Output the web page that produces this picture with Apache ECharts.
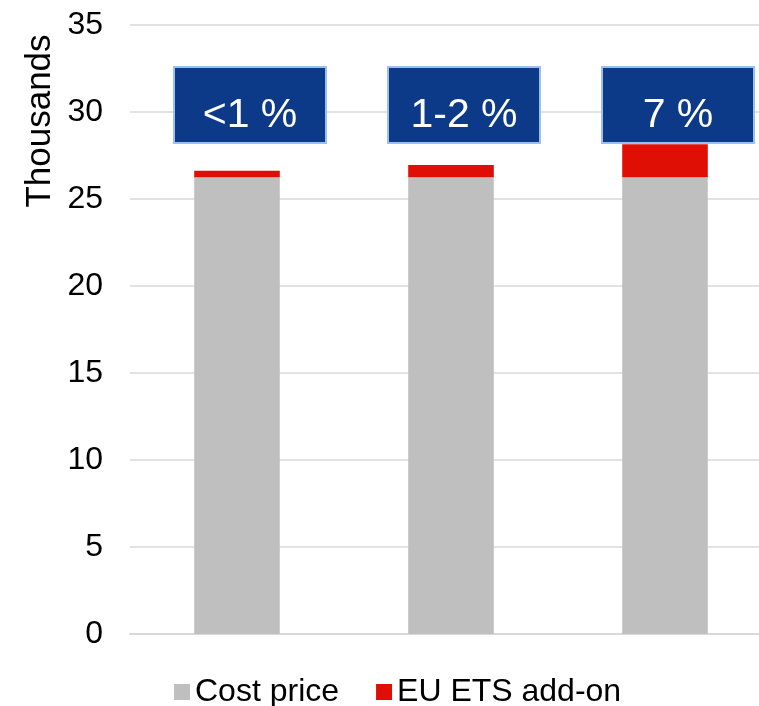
<!DOCTYPE html>
<html><head><meta charset="utf-8">
<script src="https://cdn.jsdelivr.net/npm/echarts@6/dist/echarts.min.js"></script>
<style>html,body{margin:0;padding:0;background:#fff}#c{width:759px;height:706px}</style>
</head><body><div id="c"></div>
<script>
const categories = ['A', 'B', 'C'];
const costPrice = [26.25, 26.25, 26.25];
const etsAddOn = [0.38, 0.70, 1.90];
const shareLabels = ['<1 %', '1-2 %', '7 %'];
const labelLevel = [30.4, 30.4, 30.4];
const yTicks = [0, 5, 10, 15, 20, 25, 30, 35];

const FF = '"Liberation Sans", Arial, sans-serif';
const chart = echarts.init(document.getElementById('c'));
chart.setOption({
  animation: false,
  textStyle: { fontFamily: FF },
  grid: { left: 130, width: 642, top: 25, bottom: 72, containLabel: false, outerBoundsMode: 'none' },
  xAxis: {
    type: 'category', data: categories,
    axisLine: { show: true, lineStyle: { color: '#d9d9d9', width: 2 } },
    axisTick: { show: false }, axisLabel: { show: false }
  },
  yAxis: {
    type: 'value', min: yTicks[0], max: yTicks[yTicks.length - 1], interval: 5,
    axisLine: { show: false }, axisTick: { show: false },
    axisLabel: { color: '#000', fontSize: 32, margin: 27, fontFamily: FF },
    splitLine: { lineStyle: { color: '#d9d9d9', width: 1.5 } }
  },
  legend: {
    left: 169, top: 671, itemWidth: 16, itemHeight: 16, itemGap: 37,
    icon: 'rect', textStyle: { color: '#000', fontSize: 32, fontFamily: FF },
    data: ['Cost price', 'EU ETS add-on']
  },
  graphic: [{
    type: 'text', x: 40, y: 121, rotation: Math.PI / 2,
    style: { text: 'Thousands', font: '35px "Liberation Sans", Arial, sans-serif', fill: '#000', align: 'center', verticalAlign: 'middle' }
  }],
  series: [
    { name: 'Cost price', type: 'bar', stack: 's', data: costPrice, barWidth: '40%',
      itemStyle: { color: '#bfbfbf' } },
    { name: 'EU ETS add-on', type: 'bar', stack: 's', data: etsAddOn, barWidth: '40%',
      itemStyle: { color: '#e00f06' } },
    { name: 'labels', type: 'scatter', data: labelLevel, symbolSize: 0, silent: true, z: 10,
      itemStyle: { opacity: 1 },
      label: {
        show: true, position: 'inside', opacity: 1, offset: [13, 0],
        formatter: p => '{t|' + shareLabels[p.dataIndex] + '}',
        width: 150, height: 74,
        align: 'center', verticalAlign: 'middle',
        backgroundColor: '#0d3a88', borderColor: '#9cc0ee', borderWidth: 2,
        rich: {
          t: { color: '#fff', fontSize: 41, fontFamily: FF, height: 74, lineHeight: 96, align: 'center' }
        }
      } }
  ]
});
</script></body></html>
